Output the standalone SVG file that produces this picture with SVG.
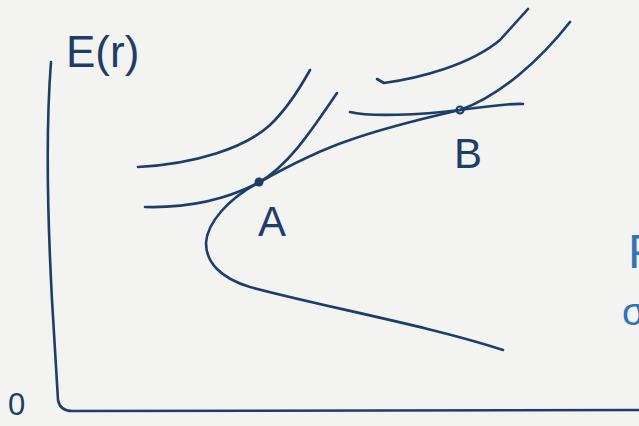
<svg xmlns="http://www.w3.org/2000/svg" width="639" height="426" viewBox="0 0 639 426">
<style>
.ink{fill:none;stroke:#1e3d68;stroke-width:2.6;stroke-linecap:round;stroke-linejoin:round}
.lbl{font-family:"Liberation Sans","DejaVu Sans",sans-serif;fill:#1e3d68}
.blue{font-family:"Liberation Sans","DejaVu Sans",sans-serif;fill:#3273b8}
</style>
<rect width="639" height="426" fill="#f3f3f1"/>
<g id="axes">
<path class="ink" d="M51,62 Q44,150 52,300 L58,400 Q60,411 72,411 L639,410"/>
<text class="lbl" x="66" y="67" font-size="44">E(r)</text>
<text class="lbl" x="8" y="415" font-size="31">0</text>
</g>
<g id="curves">
<path id="frontier" class="ink" d="M503,350 C430,326 320,306 250,287 C220,278 206,262 206,243 C207,223 228,199 258,183 C290,165 320,150 350,140 C390,126 430,117 460,110 C500,96 540,60 570,22"/>
<path id="indiff-A" class="ink" d="M145,207 C185,208 225,200 258,183 C290,165 315,125 337,93"/>
<path id="indiff-upper-left" class="ink" d="M138,167 C195,164 245,148 270,125 C288,108 300,88 310,70"/>
<path id="indiff-B" class="ink" d="M350,112 C370,117 420,115 460,110 C490,106 510,103 523,104"/>
<path id="indiff-upper-right" class="ink" d="M377,79 L384,83 C420,78 470,65 500,40 L528,9"/>
</g>
<g id="pointA">
<circle cx="259" cy="182" r="4.5" fill="#1e3d68"/>
<text class="lbl" x="258" y="236" font-size="42">A</text>
</g>
<g id="pointB">
<circle cx="460" cy="110" r="3.5" fill="none" stroke="#1e3d68" stroke-width="2.2"/>
<text class="lbl" x="454" y="168" font-size="42">B</text>
</g>
<g id="edge-text">
<text class="blue" x="628" y="268" font-size="48">P</text>
<text class="blue" x="622" y="325" font-size="38">σ</text>
</g>
</svg>
